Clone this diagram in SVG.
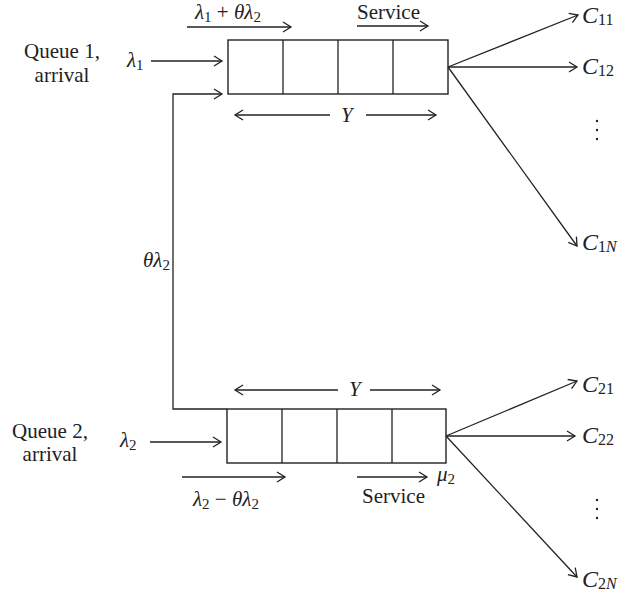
<svg xmlns="http://www.w3.org/2000/svg" width="632" height="599" viewBox="0 0 632 599">
<style>
text{font-family:"Liberation Serif","DejaVu Serif",serif;font-size:21px;fill:#222}
.i{font-style:italic}
.s{font-size:15px}
.c{font-size:24px}
.cs{font-size:16px}
.ln{stroke:#222;stroke-width:1.3;fill:none}
.bx{stroke:#222;stroke-width:1.4;fill:#fff}
</style>
<defs>
<marker id="ah" markerUnits="userSpaceOnUse" markerWidth="12" markerHeight="12" refX="10" refY="6" orient="auto">
<path d="M2,1 L10,6 L2,11" fill="none" stroke="#222" stroke-width="1.3"/>
</marker>
</defs>
<rect width="632" height="599" fill="#fff"/>
<g id="queue1">
<rect class="bx" x="228" y="40" width="220" height="54"/>
<line class="ln" x1="283" y1="40" x2="283" y2="94"/>
<line class="ln" x1="338" y1="40" x2="338" y2="94"/>
<line class="ln" x1="393" y1="40" x2="393" y2="94"/>
</g>
<g id="queue2">
<rect class="bx" x="227" y="409" width="219" height="54"/>
<line class="ln" x1="282" y1="409" x2="282" y2="463"/>
<line class="ln" x1="337" y1="409" x2="337" y2="463"/>
<line class="ln" x1="392" y1="409" x2="392" y2="463"/>
</g>
<g id="labels">
<text x="62" y="58" text-anchor="middle">Queue 1,</text>
<text x="62" y="82" text-anchor="middle">arrival</text>
<text x="50" y="438" text-anchor="middle">Queue 2,</text>
<text x="50" y="461" text-anchor="middle">arrival</text>
<text x="127" y="67"><tspan class="i">λ</tspan><tspan class="s" dy="3">1</tspan></text>
<text x="120" y="447"><tspan class="i">λ</tspan><tspan class="s" dy="3">2</tspan></text>
<text x="195" y="19"><tspan class="i">λ</tspan><tspan class="s" dy="3">1</tspan><tspan dy="-3"> + </tspan><tspan class="i">θλ</tspan><tspan class="s" dy="3">2</tspan></text>
<text x="357" y="19">Service</text>
<text x="143" y="267"><tspan class="i">θλ</tspan><tspan class="s" dy="3">2</tspan></text>
<text x="341" y="122" class="i">Y</text>
<text x="349" y="396" class="i">Y</text>
<text x="193" y="506"><tspan class="i">λ</tspan><tspan class="s" dy="3">2</tspan><tspan dy="-3"> − </tspan><tspan class="i">θλ</tspan><tspan class="s" dy="3">2</tspan></text>
<text x="362" y="503">Service</text>
<text x="437" y="481"><tspan class="i">μ</tspan><tspan class="s" dy="3">2</tspan></text>
<text x="582" y="23"><tspan class="i c">C</tspan><tspan class="cs" dy="2">11</tspan></text>
<text x="582" y="74"><tspan class="i c">C</tspan><tspan class="cs" dy="2">12</tspan></text>
<text x="582" y="250"><tspan class="i c">C</tspan><tspan class="cs" dy="2">1<tspan class="i">N</tspan></tspan></text>
<text x="582" y="392"><tspan class="i c">C</tspan><tspan class="cs" dy="2">21</tspan></text>
<text x="582" y="443"><tspan class="i c">C</tspan><tspan class="cs" dy="2">22</tspan></text>
<text x="582" y="587"><tspan class="i c">C</tspan><tspan class="cs" dy="2">2<tspan class="i">N</tspan></tspan></text>
<g fill="#222">
<circle cx="597" cy="121" r="1.2"/><circle cx="597" cy="130" r="1.2"/><circle cx="597" cy="139" r="1.2"/>
<circle cx="597" cy="500" r="1.2"/><circle cx="597" cy="509" r="1.2"/><circle cx="597" cy="518" r="1.2"/>
</g>
</g>
<g id="connectors">
<line class="ln" x1="187" y1="27" x2="291" y2="27" marker-end="url(#ah)"/>
<line class="ln" x1="357" y1="26" x2="428" y2="26" marker-end="url(#ah)"/>
<line class="ln" x1="151" y1="61" x2="222" y2="61" marker-end="url(#ah)"/>
<polyline class="ln" points="227,409 173,409 173,94 222,94" marker-end="url(#ah)"/>
<line class="ln" x1="330" y1="115" x2="235" y2="115" marker-end="url(#ah)"/>
<line class="ln" x1="366" y1="115" x2="436" y2="115" marker-end="url(#ah)"/>
<line class="ln" x1="338" y1="390" x2="235" y2="390" marker-end="url(#ah)"/>
<line class="ln" x1="370" y1="390" x2="440" y2="390" marker-end="url(#ah)"/>
<line class="ln" x1="150" y1="442" x2="221" y2="442" marker-end="url(#ah)"/>
<line class="ln" x1="182" y1="477" x2="285" y2="477" marker-end="url(#ah)"/>
<line class="ln" x1="357" y1="477" x2="427" y2="477" marker-end="url(#ah)"/>
<line class="ln" x1="448" y1="67" x2="578" y2="15" marker-end="url(#ah)"/>
<line class="ln" x1="448" y1="67" x2="577" y2="67" marker-end="url(#ah)"/>
<line class="ln" x1="448" y1="67" x2="577" y2="246" marker-end="url(#ah)"/>
<line class="ln" x1="446" y1="436" x2="577" y2="381" marker-end="url(#ah)"/>
<line class="ln" x1="446" y1="436" x2="575" y2="436" marker-end="url(#ah)"/>
<line class="ln" x1="446" y1="436" x2="577" y2="577" marker-end="url(#ah)"/>
</g>
</svg>
